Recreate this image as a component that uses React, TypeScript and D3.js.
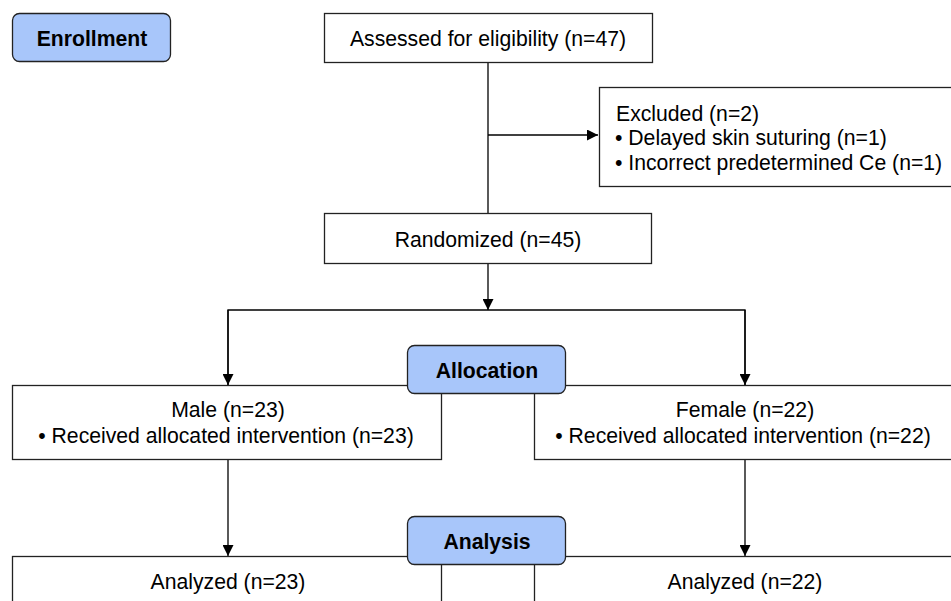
import React, { useEffect, useRef } from 'react';
import * as d3 from 'd3';

// stage labels (blue rounded boxes)
const stages = ['Enrollment', 'Allocation', 'Analysis'];
// counts
const assessed = 47;
const excluded = 2;
const excludedReasons = [
  { label: 'Delayed skin suturing', n: 1 },
  { label: 'Incorrect predetermined Ce', n: 1 },
];
const randomized = 45;
const groups = ['Male', 'Female'];
const allocated = [23, 22];
const analyzed = [23, 22];

const W = 951;
const H = 601;
const FONT = 'Liberation Sans, Arial, sans-serif';
const FS = 21.2;

export default function App() {
  const ref = useRef<SVGSVGElement>(null);

  useEffect(() => {
    const svg = d3.select(ref.current);
    svg.selectAll('*').remove();

    svg.append('defs').append('marker')
      .attr('id', 'arr')
      .attr('viewBox', '0 0 10 10')
      .attr('refX', 10).attr('refY', 5)
      .attr('markerWidth', 11).attr('markerHeight', 11)
      .attr('markerUnits', 'userSpaceOnUse')
      .attr('orient', 'auto')
      .append('path').attr('d', 'M0,0L10,5L0,10Z').attr('fill', '#000');

    // column positions for the two arms
    const x = d3.scalePoint<string>().domain(groups).range([228, 745]);
    const mid = 488;

    const line = (pts: [number, number][], arrow = false) => {
      const p = svg.append('path')
        .attr('d', d3.line()(pts))
        .attr('fill', 'none')
        .attr('stroke', '#000')
        .attr('stroke-width', 1.3);
      if (arrow) p.attr('marker-end', 'url(#arr)');
    };

    const box = (x0: number, y0: number, w: number, h: number) =>
      svg.append('rect')
        .attr('x', x0 + 0.5).attr('y', y0 + 0.5)
        .attr('width', w).attr('height', h)
        .attr('fill', '#fff').attr('stroke', '#222').attr('stroke-width', 1.3);

    const text = (t: string, tx: number, ty: number, anchor = 'middle') =>
      svg.append('text')
        .attr('x', tx).attr('y', ty)
        .attr('text-anchor', anchor)
        .attr('dominant-baseline', 'central')
        .attr('font-family', FONT)
        .attr('font-size', FS)
        .attr('fill', '#000')
        .text(t);

    // connectors
    line([[mid, 62], [mid, 213]]);
    line([[mid, 135], [598, 135]], true);
    line([[mid, 263], [mid, 310]], true);
    line([[x('Male')!, 385], [x('Male')!, 310], [x('Female')!, 310], [x('Female')!, 385]]);
    line([[x('Male')!, 310], [x('Male')!, 385]], true);
    line([[x('Female')!, 310], [x('Female')!, 385]], true);
    groups.forEach(g => line([[x(g)!, 459], [x(g)!, 556]], true));

    // enrollment boxes
    box(324, 13, 328, 49);
    text(`Assessed for eligibility (n=${assessed})`, mid, 38);

    box(599, 87, 370, 99);
    text(`Excluded (n=${excluded})`, 616, 113, 'start');
    excludedReasons.forEach((r, i) => {
      text(`\u2022 ${r.label} (n=${r.n})`, 615, 137 + i * 25, 'start');
    });

    box(324, 213, 327, 50);
    text(`Randomized (n=${randomized})`, mid, 239);

    // allocation boxes
    const armBox = [[12, 429], [534, 422]];
    groups.forEach((g, i) => {
      box(armBox[i][0], 385, armBox[i][1], 74);
      text(`${g} (n=${allocated[i]})`, x(g)!, 409);
      text(`\u2022 Received allocated intervention (n=${allocated[i]})`, x(g)! - 2, 435);
    });

    // analysis boxes
    groups.forEach((g, i) => {
      box(armBox[i][0], 556, armBox[i][1], 80);
      text(`Analyzed (n=${analyzed[i]})`, x(g)!, 581);
    });

    // stage labels
    const stagePos = [[12, 13], [407, 345], [407, 516]];
    stages.forEach((s, i) => {
      const [sx, sy] = stagePos[i];
      svg.append('rect')
        .attr('x', sx + 0.5).attr('y', sy + 0.5)
        .attr('width', 158).attr('height', 48)
        .attr('rx', 7)
        .attr('fill', '#a8c6fa').attr('stroke', '#222').attr('stroke-width', 1.3);
      svg.append('text')
        .attr('x', sx + 80).attr('y', sy + 25)
        .attr('text-anchor', 'middle')
        .attr('dominant-baseline', 'central')
        .attr('font-family', FONT)
        .attr('font-size', FS)
        .attr('font-weight', 'bold')
        .text(s);
    });
  }, []);

  return (
    <svg ref={ref} width={W} height={H}
      style={{ position: 'absolute', left: 0, top: 0, background: '#fff' }} />
  );
}
